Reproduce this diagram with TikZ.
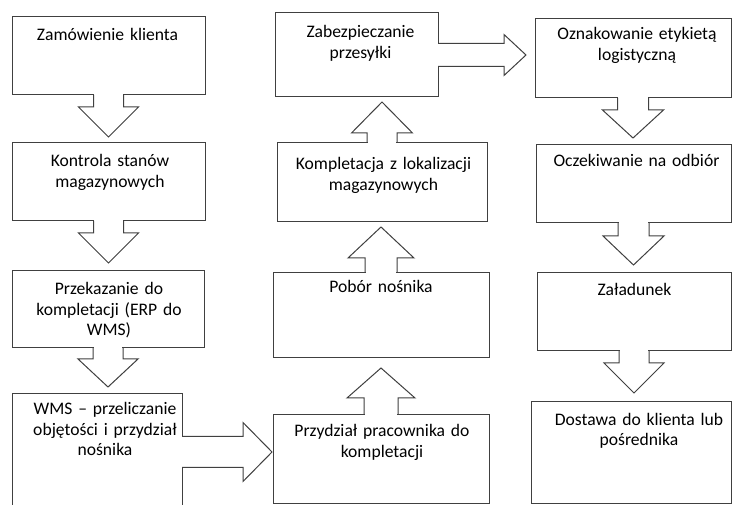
\documentclass[tikz,border=0pt]{standalone}
\usepackage{fontspec}
\setmainfont[WordSpace=0.85]{Carlito}
\usetikzlibrary{calc}

% block arrows of the callout shapes: source, target, gap, shaft, head, head length
\newcommand{\calldown}[6]{%
  \coordinate (tp) at ($(#1 |- #2)+(0,-#3)$);
  \coordinate (hb) at ($(tp)+(0,-#6)$);
  \fill[white] ($(#1)+(-#4+0.7,-1.5)$) rectangle ($(#1)+(#4-0.7,1.5)$);
  \draw[callout] ($(#1)+(-#4,0)$) -- ($(hb)+(-#4,0)$) -- ($(hb)+(-#5,0)$)
    -- (tp) -- ($(hb)+(#5,0)$) -- ($(hb)+(#4,0)$) -- ($(#1)+(#4,0)$);
}
\newcommand{\callup}[6]{%
  \coordinate (tp) at ($(#1 |- #2)+(0,#3)$);
  \coordinate (hb) at ($(tp)+(0,#6)$);
  \fill[white] ($(#1)+(-#4+0.7,-1.5)$) rectangle ($(#1)+(#4-0.7,1.5)$);
  \draw[callout] ($(#1)+(-#4,0)$) -- ($(hb)+(-#4,0)$) -- ($(hb)+(-#5,0)$)
    -- (tp) -- ($(hb)+(#5,0)$) -- ($(hb)+(#4,0)$) -- ($(#1)+(#4,0)$);
}
\newcommand{\callright}[6]{%
  \coordinate (tp) at ($(#2 |- #1)+(-#3,0)$);
  \coordinate (hb) at ($(tp)+(-#6,0)$);
  \fill[white] ($(#1)+(-1.5,-#4+0.7)$) rectangle ($(#1)+(1.5,#4-0.7)$);
  \draw[callout] ($(#1)+(0,-#4)$) -- ($(hb)+(0,-#4)$) -- ($(hb)+(0,-#5)$)
    -- (tp) -- ($(hb)+(0,#5)$) -- ($(hb)+(0,#4)$) -- ($(#1)+(0,#4)$);
}

\tikzset{
  box/.style={draw=black!75, line width=1pt, inner sep=0pt, outer sep=0pt, anchor=north west},
  callout/.style={draw=black!75, line width=1pt, line join=miter},
  txt/.style={text=black, font=\fontsize{17.6}{20.5}\selectfont, text width=230pt,
    align=center, anchor=base, inner sep=0pt}
}

\begin{document}
\begin{tikzpicture}[x=1pt, y=-1pt]
    \useasboundingbox (0,0) rectangle (732,505);
    \clip (0,0) rectangle (732,505);
    \fill[white] (0,0) rectangle (732,505);

    % left column
    \node[box, minimum width=193pt, minimum height=78pt] (zam) at (12,17) {};
    \node[box, minimum width=193pt, minimum height=78pt] (kon) at (12,143) {};
    \node[box, minimum width=192pt, minimum height=77pt] (prk) at (12,271) {};
    \node[box, minimum width=170pt, minimum height=116pt] (wms) at (12,394) {};

    % middle column
    \node[box, minimum width=163pt, minimum height=84pt] (zab) at (275,13) {};
    \node[box, minimum width=210pt, minimum height=79pt] (kom) at (277,143) {};
    \node[box, minimum width=216pt, minimum height=85pt] (pob) at (273,273) {};
    \node[box, minimum width=216pt, minimum height=88pt] (prd) at (273,415) {};

    % right column
    \node[box, minimum width=196pt, minimum height=79pt] (ozn) at (535,19) {};
    \node[box, minimum width=195pt, minimum height=78pt] (ocz) at (536,145) {};
    \node[box, minimum width=194pt, minimum height=78pt] (zal) at (537,273) {};
    \node[box, minimum width=200pt, minimum height=101pt] (dos) at (531,402) {};

    % arrows
    \calldown{zam.south}{kon.north}{6}{15}{30}{30}
    \calldown{kon.south}{prk.north}{8}{15}{30}{30}
    \calldown{prk.south}{wms.north}{7}{15}{30}{28}
    \callright{wms.east}{prd.west}{1}{15.5}{29.5}{29}
    \callup{prd.north}{pob.south}{10}{17}{34}{30}
    \callup{pob.north}{kom.south}{5}{16}{33}{31}
    \callup{kom.north}{zab.south}{5}{15}{30.5}{31}
    \callright{zab.east}{ozn.west}{9}{11.5}{20.5}{22}
    \calldown{ozn.south}{ocz.north}{7}{15.5}{30.5}{28}
    \calldown{ocz.south}{zal.north}{8}{15.5}{30.5}{29}
    \calldown{zal.south}{dos.north}{9}{15}{30}{30}

    % texts
    \node[txt] (zamT) at ($(zam.north)+(-1,23.7)$) {Zamówienie klienta};
    \node[txt] (konT) at ($(kon.north)+(1.5,24)$) {Kontrola stanów\\magazynowych};
    \node[txt] (prkT) at ($(prk.north)+(1,24)$) {Przekazanie do\\kompletacji (ERP do\\WMS)};
    \node[txt] (wmsT) at ($(wms.north)+(8,21)$) {WMS – przeliczanie\\objętości i przydział\\nośnika};
    \node[txt] (zabT) at ($(zab.north)+(4,25)$) {Zabezpieczanie\\przesyłki};
    \node[txt] (komT) at ($(kom.north)+(1.5,27)$) {Kompletacja z lokalizacji\\magazynowych};
    \node[txt] (pobT) at ($(pob.north)+(0,20)$) {Pobór nośnika};
    \node[txt] (prdT) at ($(prd.north)+(1,22)$) {Przydział pracownika do\\kompletacji};
    \node[txt] (oznT) at ($(ozn.north)+(4,21)$) {Oznakowanie etykietą\\logistyczną};
    \node[txt] (oczT) at ($(ocz.north)+(3,22)$) {Oczekiwanie na odbiór};
    \node[txt] (zalT) at ($(zal.north)+(0.5,23)$) {Załadunek};
    \node[txt] (dosT) at ($(dos.north)+(8,23)$) {Dostawa do klienta lub\\pośrednika};
\end{tikzpicture}
\end{document}
